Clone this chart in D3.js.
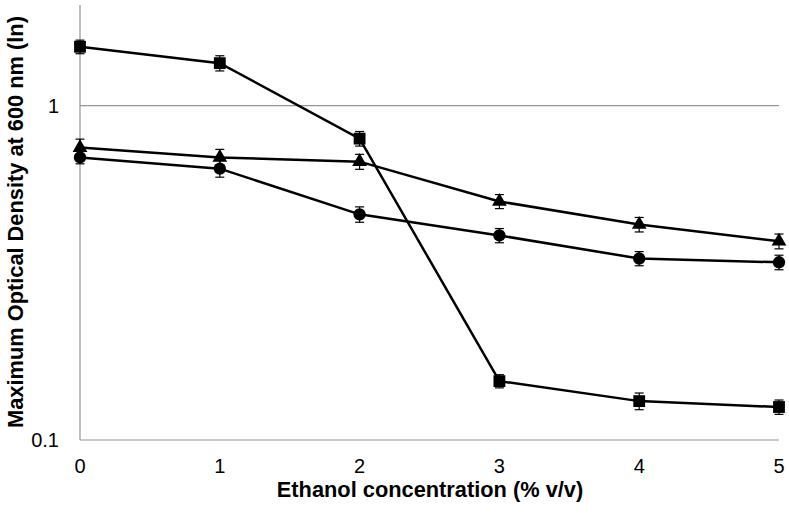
<!DOCTYPE html>
<html><head><meta charset="utf-8">
<script src="https://cdn.jsdelivr.net/npm/d3@7"></script>
<style>body{margin:0;background:#fff}svg{display:block}text{font-family:"Liberation Sans",Arial,sans-serif}</style>
</head><body><svg id="c" width="789" height="514"></svg>
<script>
const categories = [0, 1, 2, 3, 4, 5];
const squareValues = [1.50, 1.34, 0.797, 0.150, 0.1307, 0.1255];
const squareErrors = [0.07, 0.07, 0.04, 0.0068, 0.0075, 0.0062];
const triangleValues = [0.749, 0.70, 0.68, 0.517, 0.441, 0.393];
const triangleErrors = [0.045, 0.04, 0.035, 0.025, 0.022, 0.02];
const circleValues = [0.70, 0.648, 0.473, 0.409, 0.349, 0.340];
const circleErrors = [0.03, 0.037, 0.025, 0.02, 0.017, 0.017];
const yTicks = [0.1, 1];
const yTickLabels = ["0.1", "1"];

const series = [
  {name:"square", values:squareValues, errors:squareErrors, symbol:d3.symbolSquare, size:140},
  {name:"triangle", values:triangleValues, errors:triangleErrors, symbol:d3.symbolTriangle, size:95},
  {name:"circle", values:circleValues, errors:circleErrors, symbol:d3.symbolCircle, size:120}
];

const svg = d3.select("#c");
const x = d3.scaleLinear().domain([0,5]).range([80,779]);
const y = d3.scaleLog().domain([0.1,2]).range([440,5]);

svg.append("g").selectAll("line").data([1]).join("line")
  .attr("x1",80).attr("x2",779).attr("y1",d=>y(d)).attr("y2",d=>y(d))
  .attr("stroke","#969696").attr("stroke-width",1.2);

svg.append("line").attr("x1",80).attr("x2",80).attr("y1",y(2)).attr("y2",y(0.1)).attr("stroke","#969696").attr("stroke-width",1.2);
svg.append("line").attr("x1",80).attr("x2",779).attr("y1",y(0.1)).attr("y2",y(0.1)).attr("stroke","#969696").attr("stroke-width",1.2);

svg.append("g").selectAll("text").data(yTicks).join("text")
  .attr("x",59).attr("y",d=>y(d)).attr("dy","0.36em").attr("text-anchor","end")
  .attr("font-size",20).attr("fill","#000").text((d,i)=>yTickLabels[i]);

svg.append("g").selectAll("text").data(categories).join("text")
  .attr("x",d=>x(d)).attr("y",473).attr("text-anchor","middle")
  .attr("font-size",20).attr("fill","#000").text(d=>d);

svg.append("text").attr("x",430).attr("y",497).attr("text-anchor","middle")
  .attr("font-size",21.8).attr("font-weight","bold").text("Ethanol concentration (% v/v)");
svg.append("text").attr("transform","translate(23,222) rotate(-90)").attr("text-anchor","middle")
  .attr("font-size",21.8).attr("font-weight","bold").text("Maximum Optical Density at 600 nm (ln)");

const line = d3.line().x((d,i)=>x(categories[i])).y(d=>y(d));

series.forEach(s=>{
  const g = svg.append("g");
  g.append("path").attr("d",line(s.values)).attr("fill","none").attr("stroke","#000").attr("stroke-width",2.5);
  const eb = g.append("g");
  s.values.forEach((v,i)=>{
    const cx = x(categories[i]);
    const y1 = y(v + s.errors[i]), y2 = y(v - s.errors[i]);
    eb.append("line").attr("x1",cx).attr("x2",cx).attr("y1",y1).attr("y2",y2).attr("stroke","#000").attr("stroke-width",1.2);
    eb.append("line").attr("x1",cx-4.5).attr("x2",cx+4.5).attr("y1",y1).attr("y2",y1).attr("stroke","#000").attr("stroke-width",1.2);
    eb.append("line").attr("x1",cx-4.5).attr("x2",cx+4.5).attr("y1",y2).attr("y2",y2).attr("stroke","#000").attr("stroke-width",1.2);
  });
  g.selectAll("path.m").data(s.values).join("path").attr("class","m")
    .attr("d",d3.symbol().type(s.symbol).size(s.size))
    .attr("transform",(d,i)=>`translate(${x(categories[i])},${y(d)})`)
    .attr("fill","#000");
});
</script></body></html>
